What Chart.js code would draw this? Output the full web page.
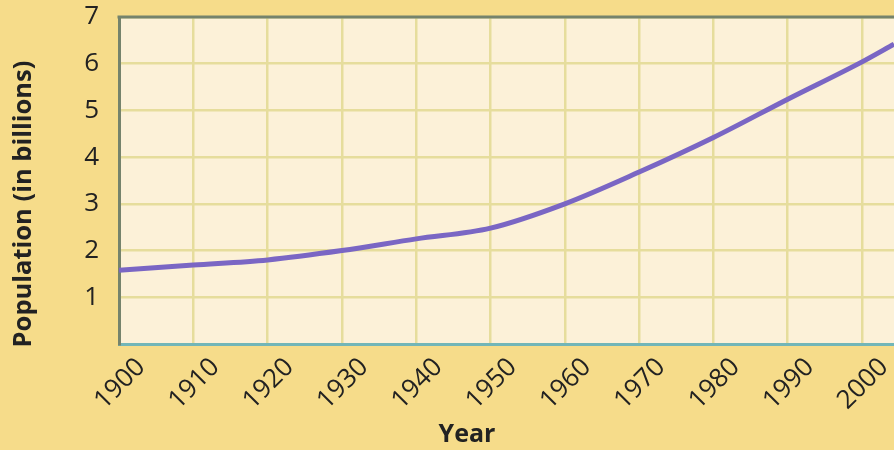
<!DOCTYPE html>
<html>
<head>
<meta charset="utf-8">
<script src="https://cdn.jsdelivr.net/npm/chart.js@4/dist/chart.umd.min.js"></script>
<style>
  html, body { margin: 0; padding: 0; background: #f6dc8a; }
  #wrap { width: 894px; height: 450px; position: relative; }
</style>
</head>
<body>
<div id="wrap"><canvas id="popChart"></canvas></div>
<script>
// world population
const years = [1900, 1910, 1920, 1930, 1940, 1950, 1960, 1970, 1980, 1990, 2000, 2004.3];
const population = [1.58, 1.69, 1.8, 2.0, 2.25, 2.48, 3.0, 3.68, 4.42, 5.24, 6.04, 6.42];
const yearTicks = [1900, 1910, 1920, 1930, 1940, 1950, 1960, 1970, 1980, 1990, 2000];
const popTicks = [0, 1, 2, 3, 4, 5, 6, 7];
const xTitle = "Year";
const yTitle = "Population (in billions)";

const fontFamily = "'Open Sans', 'Noto Sans', sans-serif";

// plot fill, dark top line, and the two axis titles
const plotExtras = {
  id: "plotExtras",
  beforeDraw(chart) {
    const { ctx, chartArea } = chart;
    ctx.save();
    ctx.fillStyle = "#fcf1d8";
    ctx.fillRect(chartArea.left, chartArea.top, chartArea.right - chartArea.left, chartArea.bottom - chartArea.top);
    ctx.restore();
  },
  afterDatasetsDraw(chart) {
    const { ctx, chartArea } = chart;
    ctx.save();
    ctx.strokeStyle = "#75836c";
    ctx.lineWidth = 3;
    ctx.beginPath();
    ctx.moveTo(chartArea.left - 1.5, chartArea.top);
    ctx.lineTo(chartArea.right, chartArea.top);
    ctx.stroke();
    ctx.restore();
  },
  afterDraw(chart) {
    const { ctx, chartArea } = chart;
    ctx.save();
    ctx.fillStyle = "#222";
    ctx.font = "bold 25px " + fontFamily;
    ctx.textAlign = "center";
    ctx.textBaseline = "middle";
    ctx.fillText(xTitle, chartArea.left + 348, chart.height - 15);
    ctx.translate(24, chartArea.top + 187);
    ctx.rotate(-Math.PI / 2);
    ctx.font = "bold 25.5px " + fontFamily;
    ctx.fillText(yTitle, 0, 0);
    ctx.restore();
  }
};

const canvas = document.getElementById("popChart");
new Chart(canvas, {
  type: "line",
  data: {
    datasets: [{
      data: years.map((y, i) => ({ x: y, y: population[i] })),
      borderColor: "#7a66c4",
      borderWidth: 5,
      pointRadius: 0,
      cubicInterpolationMode: "monotone",
      fill: false
    }]
  },
  options: {
    responsive: true,
    maintainAspectRatio: false,
    animation: false,
    layout: { padding: { top: 17, left: 0, right: 0, bottom: 0 } },
    plugins: { legend: { display: false }, tooltip: { enabled: false } },
    scales: {
      x: {
        type: "linear",
        min: 1900,
        max: 2004.3,
        afterBuildTicks: axis => { axis.ticks = yearTicks.map(v => ({ value: v })); },
        afterFit: axis => { axis.height = 106; axis.paddingLeft = 0; axis.paddingRight = 0; },
        grid: { color: "#e6dd9c", lineWidth: 2.5, drawTicks: false },
        border: { color: "#72b6b8", width: 3 },
        ticks: {
          minRotation: 45,
          maxRotation: 45,
          padding: 8,
          labelOffset: 22,
          color: "#222",
          font: { family: fontFamily, size: 26 },
          callback: v => String(v)
        }
      },
      y: {
        min: 0,
        max: 7,
        afterBuildTicks: axis => { axis.ticks = popTicks.map(v => ({ value: v })); },
        afterFit: axis => { axis.width = 119; axis.paddingTop = 0; axis.paddingBottom = 0; },
        grid: { color: "#e6dd9c", lineWidth: 2.5, drawTicks: false },
        border: { color: "#75836c", width: 3 },
        ticks: {
          padding: 20,
          color: "#222",
          font: { family: fontFamily, size: 26 },
          callback: v => (v === 0 ? "" : String(v))
        }
      }
    }
  },
  plugins: [plotExtras]
});
</script>
</body>
</html>
